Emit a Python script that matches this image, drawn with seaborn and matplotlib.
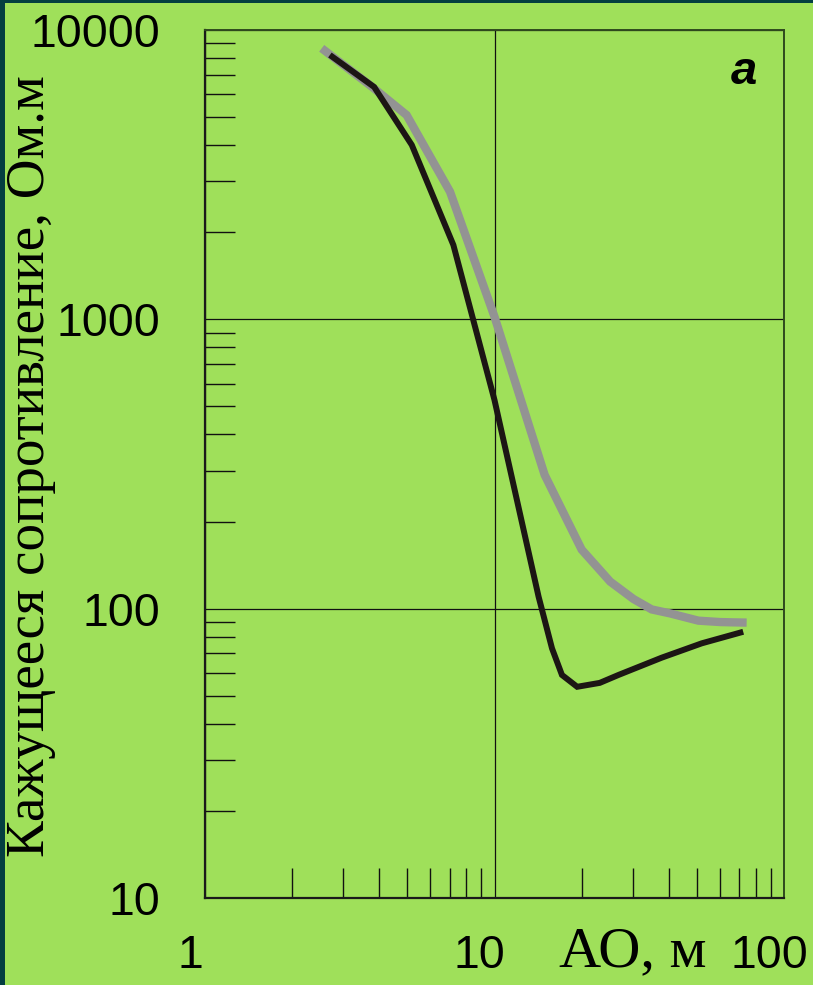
import matplotlib
matplotlib.use("Agg")
import matplotlib.pyplot as plt
import matplotlib.ticker as mticker
from matplotlib import font_manager
from matplotlib.transforms import ScaledTranslation
from matplotlib.patches import Rectangle
import seaborn as sns
import pandas as pd

# ---- data ----
black_x = [2.70, 3.84, 5.18, 7.21, 10.0, 14.2, 15.8, 17.1, 19.3, 23.1, 26.8, 37.8, 52.0, 72.3]
black_y = [8195, 6353, 4005, 1807, 526, 110, 72.9, 59.0, 53.7, 55.4, 59.0, 67.7, 75.9, 83.2]
gray_x = [2.53, 3.77, 4.97, 7.02, 10.0, 14.9, 20.0, 25.1, 30.2, 34.9, 40.4, 50.6, 60.1, 65.9, 74.3]
gray_y = [8645, 6368, 5083, 2761, 1021, 290, 160, 124, 108, 99.4, 96.3, 90.9, 89.9, 89.7, 89.5]
x_ticks = [1, 10, 100]
x_tick_labels = ["1", "10", "100"]
y_ticks = [10, 100, 1000, 10000]
y_tick_labels = ["10", "100", "1000", "10000"]
x_label = "АО, м"
y_label = "Кажущееся сопротивление, Ом.м"
panel_label = "a"

BG = "#9fe05a"
sns.set_theme(style="white")

names = {f.name for f in font_manager.fontManager.ttflist}
sans = "Liberation Sans Narrow" if "Liberation Sans Narrow" in names else "Liberation Sans"
sans_size = 37 if sans == "Liberation Sans Narrow" else 33.5
plt.rcParams["font.family"] = [sans, "DejaVu Sans"]

fig = plt.figure(figsize=(8.13, 9.85), dpi=100, facecolor=BG)
ax = fig.add_axes([205 / 813, 87 / 985, 579 / 813, 868 / 985])
ax.set_facecolor(BG)

df_g = pd.DataFrame({"x": gray_x, "y": gray_y})
df_b = pd.DataFrame({"x": black_x, "y": black_y})
sns.lineplot(data=df_g, x="x", y="y", ax=ax, color="#939393", lw=6.0,
             sort=False, estimator=None, solid_capstyle="butt", solid_joinstyle="miter")
sns.lineplot(data=df_b, x="x", y="y", ax=ax, color="#1c1614", lw=4.3,
             sort=False, estimator=None, solid_capstyle="butt", solid_joinstyle="miter")

ax.set_xscale("log")
ax.set_yscale("log")
ax.set_xlim(1, 100)
ax.set_ylim(10, 10000)

ax.xaxis.set_major_locator(mticker.FixedLocator(x_ticks))
ax.xaxis.set_major_formatter(mticker.FixedFormatter(x_tick_labels))
ax.yaxis.set_major_locator(mticker.FixedLocator(y_ticks))
ax.yaxis.set_major_formatter(mticker.FixedFormatter(y_tick_labels))
ax.xaxis.set_minor_locator(mticker.LogLocator(base=10, subs=range(2, 10), numticks=20))
ax.yaxis.set_minor_locator(mticker.LogLocator(base=10, subs=range(2, 10), numticks=20))
ax.xaxis.set_minor_formatter(mticker.NullFormatter())
ax.yaxis.set_minor_formatter(mticker.NullFormatter())

ax.tick_params(which="both", bottom=True, left=True, top=False, right=False)
ax.tick_params(which="major", length=0, labelsize=sans_size, colors="black")
ax.tick_params(axis="x", which="major", pad=26)
ax.tick_params(axis="y", which="major", pad=32)
ax.tick_params(which="minor", direction="in", length=21.5, width=1.0, color="#111111")

ax.grid(True, which="major", color="#111111", lw=0.9)
for s in ["left", "bottom"]:
    ax.spines[s].set_color("#1a1a1a")
    ax.spines[s].set_linewidth(1.6)
for s in ["top", "right"]:
    ax.spines[s].set_color("#2f4a1e")
    ax.spines[s].set_linewidth(1.4)

ax.set_xlabel(x_label, family=["Liberation Serif", "DejaVu Serif"], fontsize=42, color="black",
              va="center", ha="center")
ax.xaxis.set_label_coords((633 - 205) / 579, (898 - 952) / 868)
ax.set_ylabel(y_label, family=["Liberation Serif", "DejaVu Serif"], fontsize=39.6, color="black",
              va="center", ha="center")
ax.yaxis.set_label_coords((31 - 205) / 579, (898 - 466) / 868)

ax.text(0.931, 0.952, panel_label, transform=ax.transAxes, fontsize=34,
        fontweight="bold", fontstyle="italic", ha="center", va="center",
        family=["Liberation Sans", "DejaVu Sans"], color="black")

off = ScaledTranslation(-15 / 100, 0, fig.dpi_scale_trans)
for lab in ax.get_xticklabels():
    lab.set_transform(lab.get_transform() + off)

# dark frame on left and top edges
fig.patches.append(Rectangle((0, 0), 5 / 813, 1, transform=fig.transFigure,
                             facecolor="#033f40", edgecolor="none", zorder=10))
fig.patches.append(Rectangle((0, 1 - 3 / 985), 1, 3 / 985, transform=fig.transFigure,
                             facecolor="#033f40", edgecolor="none", zorder=10))

fig.savefig("out.png", dpi=100, facecolor=BG)
